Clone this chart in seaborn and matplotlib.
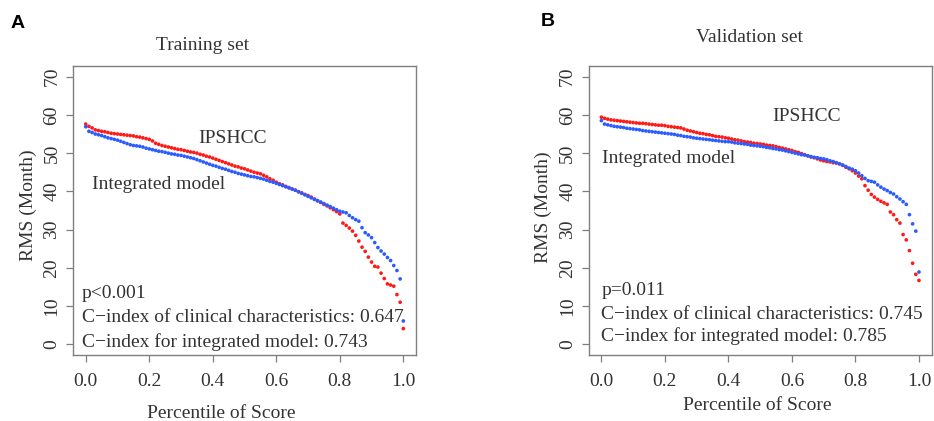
import matplotlib
matplotlib.use('Agg')
import matplotlib.pyplot as plt
import numpy as np
import pandas as pd
import seaborn as sns

# RMS (Month), ordered by percentile of score
train_ipshcc = [
    57.6, 57.0, 56.6, 56.1, 55.9, 55.7, 55.6, 55.4, 55.2, 55.1,
    55.0, 54.9, 54.8, 54.7, 54.6, 54.5, 54.3, 54.2, 54.0, 53.8,
    53.6, 53.2, 52.6, 52.3, 52.0, 51.8, 51.6, 51.4, 51.2, 51.0,
    50.9, 50.7, 50.5, 50.3, 50.2, 50.0, 49.7, 49.5, 49.2, 49.0,
    48.7, 48.4, 48.1, 47.8, 47.5, 47.2, 46.9, 46.6, 46.4, 46.1,
    45.9, 45.6, 45.3, 45.0, 44.8, 44.6, 44.2, 43.8, 43.3, 42.9,
    42.4, 42.0, 41.7, 41.3, 41.0, 40.6, 40.3, 39.9, 39.6, 39.2,
    38.9, 38.5, 38.0, 37.5, 37.1, 36.6, 36.2, 35.7, 35.2, 34.7,
    34.1, 31.7, 31.1, 30.4, 29.6, 28.5, 27.0, 25.4, 24.3, 22.8,
    21.5, 20.4, 20.2, 18.6, 17.2, 15.8, 15.5, 15.2, 13.0, 11.0,
    4.1,
]
train_integrated = [
    56.9, 55.7, 55.4, 55.0, 54.8, 54.6, 54.3, 54.0, 53.8, 53.6,
    53.4, 53.1, 52.8, 52.5, 52.2, 52.0, 51.9, 51.8, 51.6, 51.3,
    51.1, 50.9, 50.7, 50.5, 50.4, 50.2, 50.0, 49.8, 49.7, 49.5,
    49.4, 49.2, 49.0, 48.8, 48.6, 48.3, 48.0, 47.7, 47.4, 47.1,
    46.8, 46.6, 46.3, 46.0, 45.8, 45.5, 45.2, 45.0, 44.7, 44.5,
    44.3, 44.1, 43.9, 43.8, 43.6, 43.4, 43.2, 42.9, 42.6, 42.4,
    42.1, 41.8, 41.5, 41.2, 40.9, 40.6, 40.3, 39.9, 39.5, 39.1,
    38.7, 38.3, 37.9, 37.6, 37.2, 36.8, 36.4, 36.0, 35.6, 35.2,
    34.8, 34.6, 34.4, 33.7, 33.1, 32.6, 32.2, 30.5, 29.2, 28.6,
    27.9, 26.6, 25.3, 24.4, 23.6, 22.7, 21.9, 20.6, 19.3, 17.1,
    6.1,
]
valid_ipshcc = [
    59.4, 59.1, 58.9, 58.7, 58.6, 58.5, 58.4, 58.3, 58.2, 58.1,
    58.0, 57.9, 57.8, 57.8, 57.7, 57.6, 57.5, 57.4, 57.3, 57.3,
    57.2, 57.0, 56.9, 56.8, 56.7, 56.6, 56.3, 56.0, 55.8, 55.6,
    55.4, 55.2, 55.1, 54.9, 54.8, 54.6, 54.4, 54.3, 54.2, 54.0,
    53.9, 53.7, 53.5, 53.4, 53.2, 53.0, 52.9, 52.8, 52.6, 52.5,
    52.4, 52.3, 52.1, 52.0, 51.9, 51.7, 51.5, 51.3, 51.1, 50.9,
    50.7, 50.4, 50.2, 49.9, 49.6, 49.3, 49.0, 48.8, 48.5, 48.2,
    48.0, 47.8, 47.7, 47.5, 47.4, 47.2, 46.8, 46.3, 45.9, 45.4,
    44.8, 44.0, 43.3, 41.5, 40.3, 39.2, 38.5, 37.9, 37.4, 37.0,
    36.6, 34.6, 33.9, 32.6, 31.7, 28.7, 27.3, 24.5, 21.2, 18.3,
    16.7,
]
valid_integrated = [
    58.5, 57.6, 57.4, 57.2, 57.0, 56.9, 56.8, 56.7, 56.5, 56.4,
    56.3, 56.2, 56.1, 55.9, 55.8, 55.7, 55.6, 55.5, 55.4, 55.3,
    55.2, 55.1, 55.0, 54.9, 54.7, 54.6, 54.4, 54.3, 54.2, 54.0,
    53.9, 53.8, 53.7, 53.6, 53.5, 53.4, 53.3, 53.2, 53.1, 53.0,
    53.0, 52.9, 52.7, 52.6, 52.5, 52.4, 52.3, 52.1, 52.0, 51.9,
    51.8, 51.7, 51.5, 51.4, 51.2, 51.1, 50.9, 50.8, 50.6, 50.4,
    50.2, 50.0, 49.8, 49.6, 49.5, 49.3, 49.1, 48.9, 48.8, 48.6,
    48.5, 48.3, 48.0, 47.8, 47.5, 47.2, 46.9, 46.5, 46.1, 45.8,
    45.4, 44.8, 44.1, 43.4, 42.8, 42.6, 42.4, 41.7, 41.1, 40.6,
    40.2, 39.7, 39.3, 38.6, 38.0, 37.3, 36.6, 33.9, 31.5, 29.6,
    18.9,
]

panel_titles = ['Training set', 'Validation set']
panel_letters = ['A', 'B']
p_labels = ['p<0.001', 'p=0.011']
cindex_clinical = ['0.647', '0.745']
cindex_integrated = ['0.743', '0.785']
y_ticks = [0, 10, 20, 30, 40, 50, 60, 70]
x_ticks = [0.0, 0.2, 0.4, 0.6, 0.8, 1.0]

TEXT = '#333333'
GREY = '#7f7f7f'
SERIF = ['Liberation Serif', 'DejaVu Serif']
FS = 14


def long_frame(ipshcc, integrated):
    pct = np.linspace(0, 1, len(ipshcc))
    return pd.concat([
        pd.DataFrame({'pct': pct, 'rms': ipshcc, 'model': 'IPSHCC'}),
        pd.DataFrame({'pct': pct, 'rms': integrated, 'model': 'Integrated'}),
    ])


def main():
    sns.set_style('white')
    plt.rcParams['font.family'] = SERIF

    frames = [long_frame(train_ipshcc, train_integrated),
              long_frame(valid_ipshcc, valid_integrated)]
    palette = {'IPSHCC': '#ff1a1a', 'Integrated': '#2a5cff'}

    fig = plt.figure(figsize=(9.34, 4.21), dpi=100)
    lefts = [0.0782, 0.6303]
    # label positions in figure pixels
    title_pos = [(203, 46), (749.5, 38)]
    xlab_pos = [(221, 413), (757, 405)]
    ylab_pos = [(28, 205), (543, 207)]
    letter_pos = [(11, 23), (541, 22)]
    ipshcc_pos = [(0.463, 53.8), (0.645, 59.6)]
    integ_pos = [(0.23, 41.8), (0.21, 48.6)]
    stat_y = [(13.3, 7.1, 0.6), (14.1, 7.9, 2.2)]
    stat_x = [-0.012, 0.0]

    W, H = 934, 421
    for k in range(2):
        ax = fig.add_axes([lefts[k], 0.1568, 0.3672, 0.6865])
        sns.scatterplot(data=frames[k], x='pct', y='rms', hue='model',
                        palette=palette, s=7, linewidth=0, legend=False, ax=ax)
        ax.set_xlim(-0.04, 1.04)
        ax.set_ylim(-2.8, 72.8)
        ax.set_xticks(x_ticks)
        ax.set_xticklabels([f'{t:.1f}' for t in x_ticks])
        ax.set_yticks(y_ticks)
        ax.set_yticklabels([str(t) for t in y_ticks], rotation=90, va='center')
        ax.tick_params(direction='out', length=5, width=0.9, color=GREY,
                       labelcolor=TEXT, labelsize=FS, left=True, bottom=True)
        ax.tick_params(axis='x', pad=8)
        ax.tick_params(axis='y', pad=4)
        for sp in ax.spines.values():
            sp.set_color(GREY)
            sp.set_linewidth(1.0)
        ax.set_xlabel('')
        ax.set_ylabel('')

        ax.text(*ipshcc_pos[k], 'IPSHCC', ha='center', va='center',
                fontsize=FS, color=TEXT)
        ax.text(*integ_pos[k], 'Integrated model', ha='center', va='center',
                fontsize=FS, color=TEXT)
        lines = [p_labels[k],
                 f'C\u2212index of clinical characteristics: {cindex_clinical[k]}',
                 f'C\u2212index for integrated model: {cindex_integrated[k]}']
        for txt, yy in zip(lines, stat_y[k]):
            ax.text(stat_x[k], yy, txt, ha='left', va='center',
                    fontsize=FS, color=TEXT)

        fig.text(title_pos[k][0] / W, 1 - title_pos[k][1] / H, panel_titles[k],
                 ha='center', va='center', fontsize=FS, color=TEXT)
        fig.text(xlab_pos[k][0] / W, 1 - xlab_pos[k][1] / H, 'Percentile of Score',
                 ha='center', va='center', fontsize=FS, color=TEXT)
        fig.text(ylab_pos[k][0] / W, 1 - ylab_pos[k][1] / H, 'RMS (Month)',
                 ha='center', va='center', rotation=90, fontsize=FS, color=TEXT)
        fig.text(letter_pos[k][0] / W, 1 - letter_pos[k][1] / H, panel_letters[k],
                 ha='left', va='center', fontsize=14, fontweight='bold',
                 family=['Liberation Sans', 'DejaVu Sans'], color='black')

    fig.savefig('out.png', dpi=100)


if __name__ == '__main__':
    main()
